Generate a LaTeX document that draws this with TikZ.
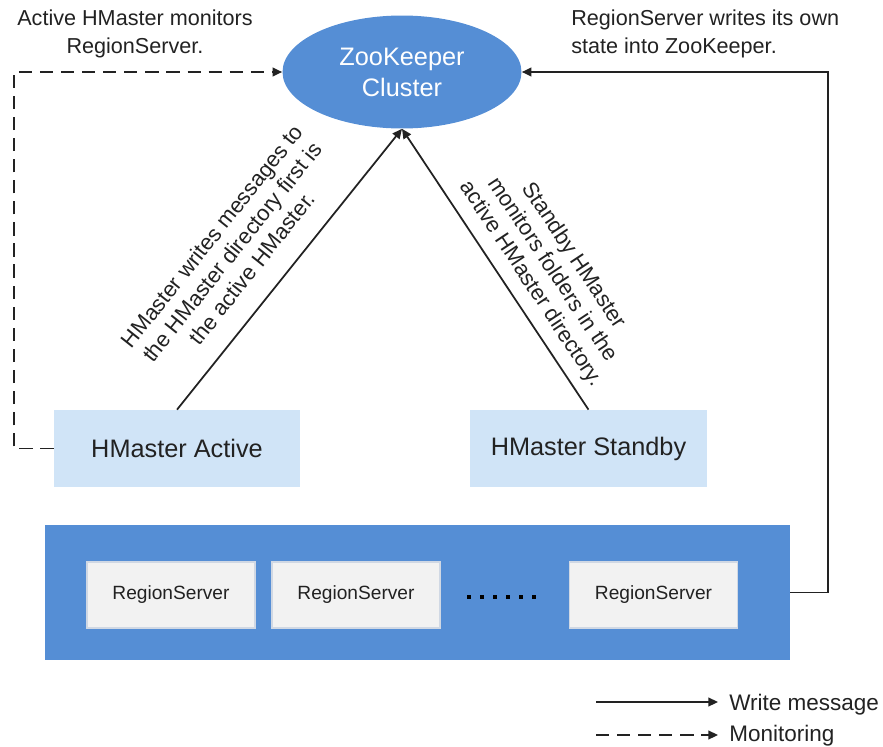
\documentclass[tikz,border=0pt]{standalone}
\usepackage{fontspec}
\setmainfont{Liberation Sans}
\usepackage{xcolor}
\definecolor{zkblue}{HTML}{558ED5}
\definecolor{masterblue}{HTML}{D0E4F7}
\definecolor{rsgray}{HTML}{F2F2F2}
\definecolor{rsedge}{HTML}{D0D8E4}
\definecolor{inkgray}{HTML}{222222}
\usepackage{tikz}
\usetikzlibrary{arrows.meta, positioning, shapes.geometric, calc}

\begin{document}
\begin{tikzpicture}[
    x=0.02cm, y=-0.02cm,
    master/.style={rectangle, fill=masterblue, minimum width=4.92cm, minimum height=1.54cm, inner sep=0pt, text=inkgray, font=\fontsize{14.4}{17}\selectfont},
    rsbox/.style={rectangle, fill=rsgray, draw=rsedge, line width=0.6pt, minimum width=3.36cm, minimum height=1.32cm, inner sep=0pt, text=inkgray, font=\fontsize{10.9}{13}\selectfont},
    note/.style={align=center, inner sep=0pt, text=inkgray, font=\fontsize{12.3}{15.9}\selectfont},
    slant/.style={align=center, inner sep=0pt, text=inkgray, font=\fontsize{12.5}{14.6}\selectfont},
    writearrow/.style={-{Triangle[length=5.5pt, width=5pt]}, line width=1pt, color=inkgray},
    monarrow/.style={writearrow, dash pattern=on 7.5pt off 4.5pt},
]
    \useasboundingbox (0,0) rectangle (883,747);

    % ZooKeeper and the two HMasters
    \node[ellipse, fill=zkblue, minimum width=4.78cm, minimum height=2.26cm, inner sep=0pt, align=center, text=white, font=\fontsize{14.4}{17.6}\selectfont] (zk) at (402,72) {ZooKeeper\\Cluster};
    \node[master] (active) at (177,448.5) {HMaster Active};
    \node[master, minimum width=4.74cm] (standby) at (588.5,448.5) {HMaster Standby};

    % RegionServer group
    \node[rectangle, fill=zkblue, minimum width=14.9cm, minimum height=2.7cm, inner sep=0pt] (rsgroup) at (417.5,592.5) {};
    \node[rsbox] (rs1) at (171,595) {RegionServer};
    \node[rsbox] (rs2) at (356,595) {RegionServer};
    \node[rsbox] (rs3) at (653.5,595) {RegionServer};
    \foreach \dx in {469,482,495,508,521,534}
        \fill[black] (\dx-2,595) rectangle (\dx+2,599);

    % connectors
    \draw[writearrow] (active.north) -- (zk.south);
    \draw[writearrow] (standby.north) -- (zk.south);
    \draw[monarrow] (active.west) -- ++(-40,0) |- (zk.west);
    \draw[writearrow] (rsgroup.east) -- ++(38,0) |- (zk.east);

    % labels
    \node[note] (monnote) at (135,34) {Active HMaster monitors\\RegionServer.};
    \node[note, align=left, anchor=west] (statenote) at (571,34) {RegionServer writes its own\\state into ZooKeeper.};
    \node[slant, rotate=51.5] (activenote) at (232,252) {HMaster writes messages to\\the HMaster directory first is\\the active HMaster.};
    \node[slant, rotate=-56.5] (standbynote) at (552,270) {Standby HMaster\\monitors folders in the\\active HMaster directory.};

    % legend
    \coordinate (w1) at (596,702);
    \coordinate (w2) at (718,702);
    \coordinate (m1) at (596,735);
    \coordinate (m2) at (718,735);
    \draw[writearrow] (w1) -- (w2);
    \draw[monarrow] (m1) -- (m2);
    \node[note, anchor=west, font=\fontsize{12.8}{15}\selectfont] (writelbl) at (729,705) {Write message};
    \node[note, anchor=west, font=\fontsize{12.8}{15}\selectfont] (monlbl) at (729,736) {Monitoring};
\end{tikzpicture}
\end{document}
